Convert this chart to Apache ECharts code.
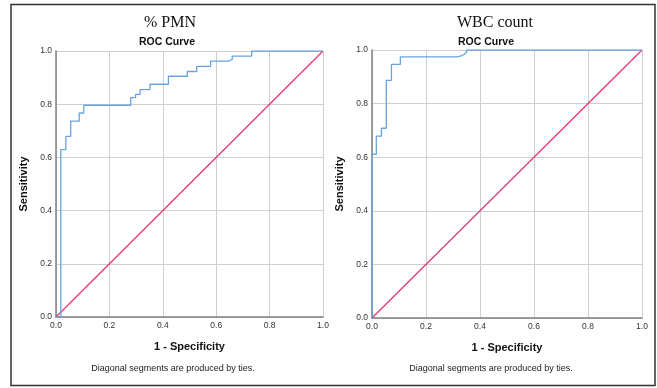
<!DOCTYPE html>
<html>
<head>
<meta charset="utf-8">
<script src="https://cdn.jsdelivr.net/npm/echarts@6/dist/echarts.min.js"></script>
<style>
  html, body { margin: 0; padding: 0; background: #fff; }
  #chart { width: 657px; height: 388px; }
</style>
</head>
<body>
<div id="chart"></div>
<script>
// ROC points (1 - specificity, sensitivity)
const pmnFpr = [0, 0.018, 0.037, 0.055, 0.087, 0.104, 0.280, 0.298, 0.315, 0.352, 0.421, 0.492, 0.527, 0.579, 0.645, 0.660, 0.733, 1.0];
const pmnTpr = [0, 0.629, 0.679, 0.736, 0.767, 0.796, 0.825, 0.837, 0.855, 0.875, 0.905, 0.923, 0.942, 0.962, 0.968, 0.981, 1.0, 1.0];

const wbcFpr = [0, 0, 0.016, 0.035, 0.053, 0.072, 0.105, 0.295, 0.315, 0.330, 0.342, 0.350, 1.0];
const wbcTpr = [0, 0.611, 0.679, 0.708, 0.887, 0.946, 0.974, 0.974, 0.978, 0.984, 0.991, 1.0, 1.0];

// reference line
const diagX = [0, 1];
const diagY = [0, 1];

const panelTitles = ['% PMN', 'WBC count'];
const axisTicks = [0, 0.2, 0.4, 0.6, 0.8, 1.0];

const blue = '#6aa3de';
const red = '#e6336b';

const zip = (xs, ys) => xs.map((x, i) => [x, ys[i]]);

const chart = echarts.init(document.getElementById('chart'));

function valueAxis(gridIndex, name, isX) {
    return {
        type: 'value',
        gridIndex: gridIndex,
        min: axisTicks[0],
        max: axisTicks[axisTicks.length - 1],
        interval: 0.2,
        name: name,
        nameLocation: 'middle',
        nameGap: isX ? 24 : 27,
        nameTextStyle: {fontFamily: 'Liberation Sans', fontWeight: 'bold', fontSize: 11, color: '#111'},
        axisLine: {show: true, lineStyle: {color: '#808080', width: 1.5}},
        axisTick: {show: false},
        axisLabel: {
            fontFamily: 'Liberation Sans', fontSize: 8.5, color: '#333', margin: 4,
            formatter: v => v.toFixed(1)
        },
        splitLine: {show: true, lineStyle: {color: '#cfcfcf', width: 1}}
    };
}

const titleBase = {fontFamily: 'Liberation Sans', fontWeight: 'bold', fontSize: 10.5, color: '#111'};
const noteStyle = {fontFamily: 'Liberation Sans', fontWeight: 'normal', fontSize: 9, color: '#222'};
const serifStyle = {fontFamily: 'Liberation Serif', fontWeight: 'normal', fontSize: 16, color: '#111'};

const option = {
    animation: false,
    backgroundColor: '#fff',
    title: [
        {text: panelTitles[0], left: 165, top: 10, textAlign: 'center', textStyle: serifStyle},
        {text: panelTitles[1], left: 490, top: 10, textAlign: 'center', textStyle: serifStyle},
        {text: 'ROC Curve', left: 162, top: 32, textAlign: 'center', textStyle: titleBase},
        {text: 'ROC Curve', left: 481, top: 32, textAlign: 'center', textStyle: titleBase},
        {text: 'Diagonal segments are produced by ties.', left: 168, top: 359, textAlign: 'center', textStyle: noteStyle},
        {text: 'Diagonal segments are produced by ties.', left: 486, top: 359, textAlign: 'center', textStyle: noteStyle}
    ],
    graphic: [
        {type: 'rect', shape: {x: 11, y: 4.5, width: 644, height: 381}, silent: true,
            style: {fill: 'none', stroke: '#333', lineWidth: 1.5}}
    ],
    grid: [
        {left: 56, top: 51, width: 267, height: 266},
        {left: 372, top: 50, width: 270, height: 268}
    ],
    xAxis: [valueAxis(0, '1 - Specificity', true), valueAxis(1, '1 - Specificity', true)],
    yAxis: [valueAxis(0, 'Sensitivity', false), valueAxis(1, 'Sensitivity', false)],
    series: [
        {type: 'line', xAxisIndex: 0, yAxisIndex: 0, data: zip(diagX, diagY), symbol: 'none',
            lineStyle: {color: red, width: 1.2}, z: 2},
        {type: 'line', xAxisIndex: 0, yAxisIndex: 0, data: zip(pmnFpr, pmnTpr), step: 'end', symbol: 'none',
            lineStyle: {color: blue, width: 1.3}, z: 3},
        {type: 'line', xAxisIndex: 1, yAxisIndex: 1, data: zip(diagX, diagY), symbol: 'none',
            lineStyle: {color: red, width: 1.2}, z: 2},
        {type: 'line', xAxisIndex: 1, yAxisIndex: 1, data: zip(wbcFpr, wbcTpr), step: 'end', symbol: 'none',
            lineStyle: {color: blue, width: 1.3}, z: 3}
    ]
};

chart.setOption(option);
</script>
</body>
</html>
